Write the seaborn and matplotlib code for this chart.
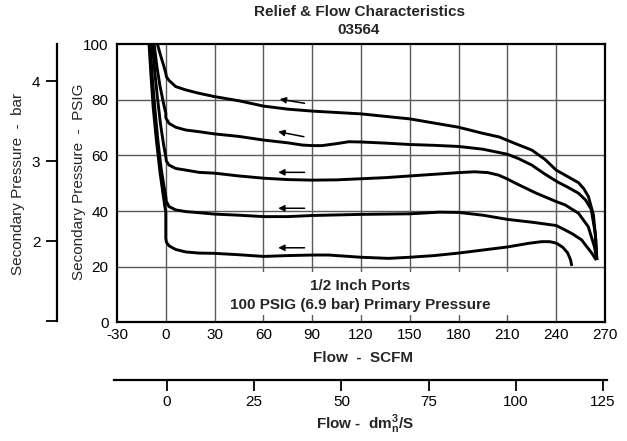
import matplotlib
matplotlib.use("Agg")
import matplotlib.pyplot as plt
import seaborn as sns
import pandas as pd
from matplotlib.patches import Rectangle

# ---------------- data ----------------
scfm_ticks = [-30, 0, 30, 60, 90, 120, 150, 180, 210, 240, 270]
psig_ticks = [0, 20, 40, 60, 80, 100]
bar_ticks = [1, 2, 3, 4]
bar_labels = ["", "2", "3", "4"]
dm_ticks = [0, 25, 50, 75, 100, 125]

curve1_x = [-5.2, -3.0, -1.2, 0, 0.4, 2, 6.1, 12.3, 20.4, 30, 45, 60, 75, 90, 105, 120, 135, 150, 165, 180,
            195, 205, 215, 225, 233, 240, 245.5, 250, 253.7, 257, 259.8, 262.9, 264.3, 265]
curve1_y = [100, 95.5, 92, 89.5, 88.2, 86.9, 84.7, 83.5, 82.3, 81.1, 79.6, 77.7, 76.6, 75.9, 75.4, 74.9, 74.0, 73.1, 71.6, 70.1,
            67.9, 66.6, 64.2, 61.9, 58.6, 54.7, 52.9, 51.4, 50.2, 48.0, 45.2, 38.6, 30, 22.4]

curve2_x = [-7.2, -5.5, -3.6, -1.7, 0, 0, 2, 6.1, 12.3, 20.4, 30, 45, 60, 75, 84, 90, 96, 105, 112.5, 120, 135,
            150, 165, 180, 195, 210, 217, 225, 233, 241, 247, 253.7, 258, 261.5, 264, 265]
curve2_y = [100, 92, 85, 79.5, 75.1, 73.5, 71.5, 70.1, 69.1, 68.5, 67.7, 66.8, 65.5, 64.5, 63.7, 63.5, 63.5, 64.2, 64.9, 64.8, 64.4,
            63.9, 63.6, 63.2, 62.2, 60.4, 58.8, 56.5, 53.3, 50.4, 48.6, 46.4, 44, 40.7, 32, 22.4]

curve3_x = [-8.2, -6.8, -5.0, -3.2, -1.4, 0, 0.3, 2, 6.1, 12.3, 20.4, 30, 45, 60, 75, 90, 105, 120, 135,
            150, 165, 180, 190, 198, 204.6, 210, 215, 227, 240, 245.5, 253.7, 259.7, 263.5, 265]
curve3_y = [100, 90, 80, 71, 64, 59.5, 58.0, 56.5, 55.3, 54.7, 53.9, 53.6, 52.6, 51.8, 51.3, 51.1, 51.2, 51.6, 52.0,
            52.6, 53.2, 53.8, 54.1, 53.8, 52.9, 51.5, 50, 46.6, 43.4, 42.2, 39.2, 34.4, 27.2, 22.4]

curve4_x = [-9.6, -8.3, -6.6, -4.8, -2.8, -1.0, 0, 0.3, 2, 6.1, 12.3, 20.4, 30, 45, 60, 75, 90, 120,
            150, 168, 180, 195, 210, 225, 235, 240, 245.5, 250, 255.7, 258, 262, 264.6]
curve4_y = [100, 88, 76, 65, 55, 48.5, 45.2, 43.5, 41.6, 40.4, 39.8, 39.4, 38.9, 38.5, 38.0, 38.0, 38.4, 38.8,
            39.0, 39.6, 39.5, 38.5, 37.0, 36.0, 35.2, 34.8, 33.2, 31.8, 29.6, 27.8, 24.8, 22.4]

curve5_x = [-10.3, -9.2, -7.8, -5.8, -3.5, -0.6, 0, 0, 0.4, 2, 6.1, 12.3, 20.4, 30, 45, 60, 75, 90, 100, 110,
            120, 137, 150, 165, 180, 195, 210, 223, 231, 236, 240, 244, 247, 248.8, 249.6]
curve5_y = [100, 89.5, 77.5, 65.5, 53.6, 41.6, 39.8, 30.2, 28.8, 27.5, 26.2, 25.3, 24.9, 24.8, 24.3, 23.7, 24.0, 24.2, 24.2, 23.8,
            23.4, 23.0, 23.4, 24.0, 24.9, 26.0, 27.1, 28.4, 29.0, 29.0, 28.5, 27.0, 25.0, 22.5, 20.3]

arrow_tail_x = [85.3, 84.9, 85.3, 85.3, 85.3]
arrow_tail_y = [78.7, 66.7, 53.9, 41.0, 26.8]
arrow_head_x = [70.0, 69.1, 69.1, 69.1, 69.1]
arrow_head_y = [80.2, 68.5, 53.9, 41.0, 26.8]

curves = [(curve1_x, curve1_y), (curve2_x, curve2_y), (curve3_x, curve3_y),
          (curve4_x, curve4_y), (curve5_x, curve5_y)]

# ---------------- style ----------------
sns.set_theme(style="white")
plt.rcParams["font.family"] = ["Liberation Sans", "DejaVu Sans"]
plt.rcParams["mathtext.fontset"] = "custom"
plt.rcParams["mathtext.rm"] = "Liberation Sans"
plt.rcParams["mathtext.bf"] = "Liberation Sans:bold"

FS = 11
W, H = 627, 441
fig = plt.figure(figsize=(W / 100, H / 100), dpi=100)

def fx(px):
    return px / W

def fy(py):
    return 1 - py / H

# main axes
L, R, T, B = 117, 605, 44, 322.4
ax = fig.add_axes([fx(L), fy(B), (R - L) / W, (B - T) / H])
ax.set_xlim(-30, 270)
ax.set_ylim(0, 100)
ax.set_xticks(scfm_ticks)
ax.set_yticks(psig_ticks)
ax.set_xticklabels([str(t) for t in scfm_ticks])
ax.set_yticklabels([str(t) for t in psig_ticks])
ax.tick_params(axis="both", length=0, labelsize=FS, colors="black")
ax.tick_params(axis="x", pad=4)
ax.tick_params(axis="y", pad=6)
for s in ax.spines.values():
    s.set_color("black")
    s.set_linewidth(1.6)
    s.set_visible(True)

grid_c = "#5a5a5a"
for xv in scfm_ticks[1:-1]:
    ax.axvline(xv, color=grid_c, lw=1.0, zorder=1)
for yv in psig_ticks[1:-1]:
    ax.axhline(yv, color=grid_c, lw=1.0, zorder=1)

ax.add_patch(Rectangle((48, 2.7), 170, 15.5, facecolor="white", edgecolor="none", zorder=2))

for cx, cy in curves:
    df = pd.DataFrame({"x": cx, "y": cy})
    sns.lineplot(data=df, x="x", y="y", sort=False, estimator=None, color="black",
                 lw=2.1, ax=ax, zorder=4, solid_joinstyle="round", solid_capstyle="butt")

for tx, ty, hx, hy in zip(arrow_tail_x, arrow_tail_y, arrow_head_x, arrow_head_y):
    ax.annotate("", xy=(hx, hy), xytext=(tx, ty),
                arrowprops=dict(arrowstyle="-|>", color="black", lw=1.1,
                                mutation_scale=9, shrinkA=0, shrinkB=0), zorder=5)

ax.set_xlabel("")
ax.set_ylabel("")
ax.text(119.3, 13.1, "1/2 Inch Ports", ha="center", va="center", fontsize=FS,
        fontweight="bold", zorder=6)
ax.text(119.3, 6.3, "100 PSIG (6.9 bar) Primary Pressure", ha="center", va="center",
        fontsize=FS, fontweight="bold", zorder=6)

# secondary bar axis (left)
bax = fig.add_axes([fx(57), fy(321), 0.001, (321 - 44) / H])
bax.set_ylim(1, 4.4625)
bax.set_yticks(bar_ticks)
bax.set_yticklabels(bar_labels)
bax.set_xticks([])
for k in ["top", "right", "bottom"]:
    bax.spines[k].set_visible(False)
bax.spines["left"].set_color("black")
bax.spines["left"].set_linewidth(1.6)
bax.patch.set_alpha(0)
bax.tick_params(axis="y", direction="out", length=8, width=1.3, pad=4, labelsize=FS,
                colors="black", left=True)

# secondary dm3/s axis (bottom)
dax = fig.add_axes([fx(114), fy(380), (607 - 114) / W, 0.001])
dax.set_xlim(-15.2, 126.15)
dax.set_xticks(dm_ticks)
dax.set_xticklabels([str(t) for t in dm_ticks])
dax.set_yticks([])
for k in ["top", "right", "left"]:
    dax.spines[k].set_visible(False)
dax.spines["bottom"].set_color("black")
dax.spines["bottom"].set_linewidth(1.6)
dax.patch.set_alpha(0)
dax.tick_params(axis="x", direction="out", length=8, width=1.3, pad=3, labelsize=FS,
                colors="black", bottom=True)

# labels and title
fig.text(fx(360), fy(12), "Relief & Flow Characteristics", ha="center", va="center",
         fontsize=FS, fontweight="bold")
fig.text(fx(359), fy(30), "03564", ha="center", va="center", fontsize=FS, fontweight="bold")
fig.text(fx(363), fy(358), "Flow  -  SCFM", ha="center", va="center", fontsize=FS, fontweight="bold")
fig.text(fx(365), fy(424), r"Flow -  dm$_{\mathbf{n}}^{\mathbf{3}}$/S", ha="center", va="center",
         fontsize=FS, fontweight="bold")
fig.text(fx(79), fy(182), "Secondary Pressure  -  PSIG", rotation=90, ha="center", va="center",
         fontsize=FS)
fig.text(fx(18.5), fy(184), "Secondary Pressure  -  bar", rotation=90, ha="center", va="center",
         fontsize=FS)

fig.savefig("out.png", dpi=100)
